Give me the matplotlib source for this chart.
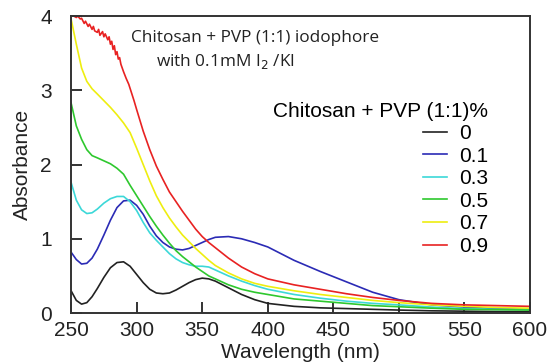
"""UV-Vis absorbance of chitosan + PVP (1:1) iodophore, 0.1 mM I2/KI."""

import matplotlib
matplotlib.use("Agg")
from matplotlib import pyplot as plt

# --- data ---
wl = [250, 254, 258, 262, 266, 270, 275, 280, 285, 290, 295, 300, 305, 310,
      315, 320, 325, 330, 335, 340, 345, 350, 355, 360, 370, 380, 390, 400,
      420, 440, 460, 480, 500, 525, 550, 575, 600]

abs_0 = [0.30, 0.17, 0.12, 0.14, 0.22, 0.33, 0.48, 0.61, 0.68, 0.69, 0.63, 0.52,
         0.41, 0.32, 0.27, 0.26, 0.27, 0.31, 0.36, 0.41, 0.45, 0.47, 0.46, 0.43,
         0.34, 0.25, 0.18, 0.13, 0.09, 0.07, 0.06, 0.05, 0.04, 0.03, 0.025, 0.02, 0.02]
abs_01 = [0.82, 0.72, 0.66, 0.67, 0.74, 0.86, 1.05, 1.25, 1.42, 1.51, 1.52, 1.45,
          1.33, 1.17, 1.04, 0.95, 0.89, 0.86, 0.85, 0.87, 0.91, 0.95, 0.99, 1.02,
          1.03, 1.00, 0.95, 0.89, 0.71, 0.56, 0.42, 0.28, 0.18, 0.11, 0.08, 0.06, 0.05]
abs_03 = [1.76, 1.52, 1.39, 1.34, 1.35, 1.40, 1.48, 1.54, 1.57, 1.57, 1.50, 1.38,
          1.22, 1.08, 0.98, 0.89, 0.80, 0.73, 0.68, 0.65, 0.63, 0.63, 0.62, 0.58,
          0.50, 0.43, 0.37, 0.32, 0.25, 0.20, 0.16, 0.13, 0.11, 0.08, 0.06, 0.05, 0.05]
abs_05 = [2.83, 2.52, 2.34, 2.20, 2.12, 2.09, 2.05, 2.01, 1.95, 1.87, 1.72, 1.58,
          1.44, 1.30, 1.17, 1.05, 0.94, 0.84, 0.76, 0.69, 0.62, 0.56, 0.50, 0.46,
          0.38, 0.32, 0.28, 0.25, 0.19, 0.16, 0.13, 0.10, 0.085, 0.065, 0.05, 0.045, 0.04]
abs_07 = [3.96, 3.62, 3.30, 3.12, 3.02, 2.95, 2.86, 2.77, 2.67, 2.56, 2.43, 2.22,
          2.00, 1.78, 1.58, 1.42, 1.28, 1.16, 1.05, 0.96, 0.87, 0.79, 0.71, 0.64,
          0.54, 0.46, 0.40, 0.36, 0.30, 0.25, 0.21, 0.17, 0.14, 0.11, 0.09, 0.075, 0.065]

# the 0.9 % trace is noisy (saturated detector) below ~290 nm
wl_09 = [250, 252, 254, 255, 257, 258, 260, 261, 263, 264, 266, 267, 268, 270,
         271, 272, 274, 275, 276, 278, 279, 280, 281, 282, 283, 284, 285, 286,
         287, 288, 290, 292, 294, 296, 298, 300, 305, 310, 315, 320, 325, 330,
         335, 340, 345, 350, 355, 360, 370, 380, 390, 400, 420, 440, 460, 480,
         500, 525, 550, 575, 600]
abs_09 = [4.00, 4.00, 3.98, 4.00, 3.96, 3.97, 3.90, 3.93, 3.86, 3.89, 3.82, 3.86,
          3.80, 3.78, 3.82, 3.74, 3.79, 3.72, 3.76, 3.68, 3.72, 3.62, 3.66, 3.55,
          3.60, 3.48, 3.52, 3.42, 3.44, 3.35, 3.25, 3.16, 3.08, 2.97, 2.86, 2.74,
          2.45, 2.20, 1.98, 1.80, 1.63, 1.50, 1.37, 1.25, 1.13, 1.03, 0.95, 0.88,
          0.74, 0.62, 0.53, 0.46, 0.38, 0.32, 0.26, 0.21, 0.17, 0.13, 0.11, 0.10, 0.09]

labels = ["0", "0.1", "0.3", "0.5", "0.7", "0.9"]
colors = ["#222222", "#2b2bb5", "#3cd8d8", "#2ec82e", "#eeee10", "#e82222"]

x_ticks = [250, 300, 350, 400, 450, 500, 550, 600]
y_ticks = [0, 1, 2, 3, 4]

plt.rcParams["font.family"] = ["Liberation Sans", "DejaVu Sans"]

fig = plt.figure(figsize=(5.51, 3.64), dpi=100)
ax = fig.add_axes([0.129, 0.140, 0.833, 0.816])

series = [(wl, abs_0), (wl, abs_01), (wl, abs_03), (wl, abs_05), (wl, abs_07), (wl_09, abs_09)]
for (x, y), lab, col in zip(series, labels, colors):
    ax.plot(x, y, color=col, lw=1.2, label=lab)

ax.set_xlim(250, 600)
ax.set_ylim(0, 4)
ax.set_xticks(x_ticks)
ax.set_yticks(y_ticks)
ax.tick_params(direction="in", length=8, width=1.4, color="#333333",
               labelsize=15, labelcolor="#222222")
ax.tick_params(axis="x", pad=6)
ax.tick_params(axis="y", pad=14)
for s in ax.spines.values():
    s.set_linewidth(1.4)
    s.set_color("#333333")

ax.set_xlabel("Wavelength (nm)", fontsize=15, color="#222222", labelpad=2)
ax.set_ylabel("Absorbance", fontsize=15, color="#222222", labelpad=6)

note_font = ["Open Sans", "DejaVu Sans"]
fig.text(0.238, 0.896, "Chitosan + PVP (1:1) iodophore", fontsize=12.4,
         family=note_font, va="center", color="#222222")
fig.text(0.283, 0.830, "with 0.1mM I$_2$ /KI", fontsize=12.4,
         family=note_font, va="center", color="#222222")

ax.legend(title="Chitosan + PVP (1:1)%", loc="upper right",
          bbox_to_anchor=(0.908, 0.712), frameon=False, fontsize=15,
          title_fontsize=15, alignment="right", handlelength=1.15,
          handletextpad=0.56, labelspacing=0.17, borderpad=0, borderaxespad=0)

fig.savefig("out.png", dpi=100)
